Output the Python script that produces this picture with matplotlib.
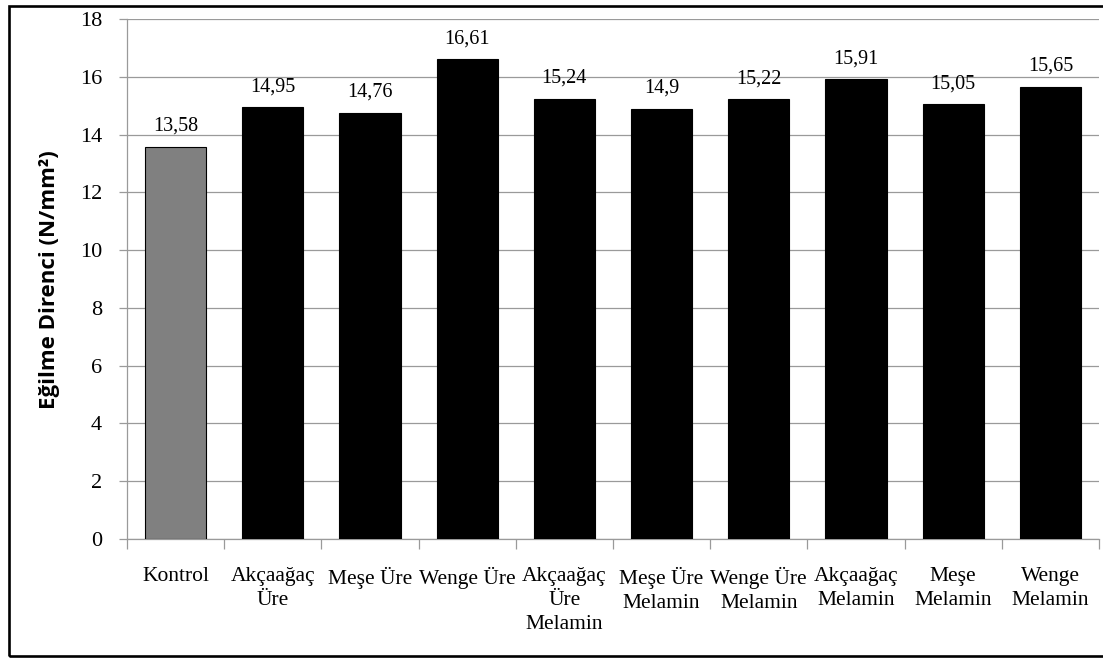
import matplotlib
matplotlib.use("Agg")
import matplotlib.pyplot as plt
from matplotlib.patches import Rectangle
from matplotlib.ticker import MultipleLocator, FixedLocator, NullFormatter

# Bending strength per treatment group
categories = [
    "Kontrol",
    "Akçaağaç\nÜre",
    "Meşe Üre",
    "Wenge Üre",
    "Akçaağaç\nÜre\nMelamin",
    "Meşe Üre\nMelamin",
    "Wenge Üre\nMelamin",
    "Akçaağaç\nMelamin",
    "Meşe\nMelamin",
    "Wenge\nMelamin",
]
values = [13.58, 14.95, 14.76, 16.61, 15.24, 14.9, 15.22, 15.91, 15.05, 15.65]
value_labels = ["13,58", "14,95", "14,76", "16,61", "15,24",
                "14,9", "15,22", "15,91", "15,05", "15,65"]
y_label = "Eğilme Direnci (N/mm²)"

W, H = 1103, 658
fig = plt.figure(figsize=(W / 100, H / 100), dpi=100)
ax = fig.add_axes([127 / W, 1 - 539 / H, 972 / W, 520 / H])

serif = "Liberation Serif"
grid_col = "#9a9a9a"

colors = ["#808080"] + ["#000000"] * (len(values) - 1)
x = list(range(len(values)))
ax.bar(x, values, width=0.63, color=colors, edgecolor="#000000",
       linewidth=0.8, zorder=3)

for xi, v, lab in zip(x, values, value_labels):
    ax.annotate(lab, (xi, v), xytext=(0, 11.5), textcoords="offset points",
                ha="center", va="baseline", fontsize=14.5, family=serif,
                color="#000000", zorder=4)

ax.set_xlim(-0.5, len(values) - 0.5)
ax.set_ylim(0, 18)
ax.yaxis.set_major_locator(MultipleLocator(2))
ax.yaxis.grid(True, color=grid_col, linewidth=0.9, zorder=0)
ax.set_axisbelow(True)

# category labels at bar centres, tick marks at category boundaries
ax.set_xticks(x)
ax.set_xticklabels(categories, family=serif, fontsize=15.5, linespacing=1.35)
ax.xaxis.set_minor_locator(FixedLocator([i - 0.5 for i in range(len(values) + 1)]))
ax.xaxis.set_minor_formatter(NullFormatter())
ax.tick_params(axis="x", which="major", length=0, pad=20)
ax.tick_params(axis="x", which="minor", length=7, width=0.9,
               color=grid_col, direction="out")
ax.tick_params(axis="y", which="major", length=6, width=0.9,
               color=grid_col, direction="out", pad=12, labelsize=16)
for t in ax.get_yticklabels():
    t.set_family(serif)

for side in ("top", "right"):
    ax.spines[side].set_visible(False)
for side in ("left", "bottom"):
    ax.spines[side].set_color(grid_col)
    ax.spines[side].set_linewidth(0.9)

fig.text(49 / W, 1 - 280 / H, y_label, rotation=90, ha="center", va="center",
         fontsize=16, fontweight="bold", family="Open Sans")

# outer frame around the whole chart
fig.add_artist(Rectangle((8.7 / W, 2 / H), (1106 - 8.7) / W, (656 - 5.5) / H,
                         transform=fig.transFigure, fill=False,
                         edgecolor="#000000", linewidth=1.9))

fig.savefig("out.png", dpi=100)
